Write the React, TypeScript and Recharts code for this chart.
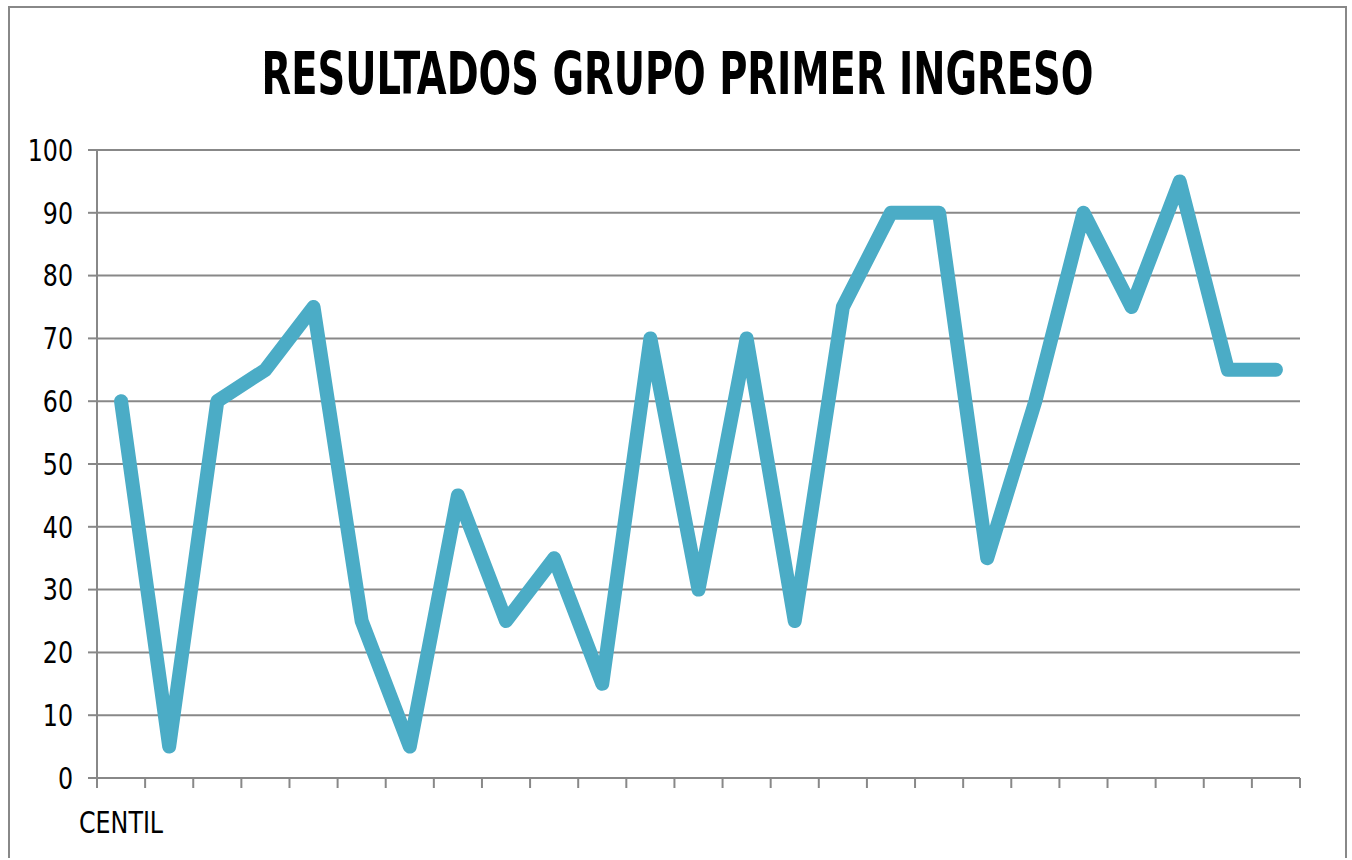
import { LineChart, Line, XAxis, YAxis, CartesianGrid } from "recharts";

const categories = [
  "CENTIL", "", "", "", "", "", "", "", "", "", "", "", "",
  "", "", "", "", "", "", "", "", "", "", "", "",
];
const values = [
  60, 5, 60, 65, 75, 25, 5, 45, 25, 35, 15, 70, 30, 70, 25, 75, 90, 90, 35, 60,
  90, 75, 95, 65, 65,
];
const yTicks = [0, 10, 20, 30, 40, 50, 60, 70, 80, 90, 100];

const data = values.map((v, i) => ({ pos: i + 0.5, label: categories[i], value: v }));
const xTicks = categories.map((_, i) => i).concat(categories.length);

const FONT = '"DejaVu Sans Condensed", "DejaVu Sans", sans-serif';
const GRID = "#888888";

const W = 1335;
const H = 850;
const margin = { top: 142, right: 45, left: 0, bottom: 40 };
const yAxisWidth = 87;
const band = (W - margin.left - margin.right - yAxisWidth) / categories.length;

// condensed look, the source font is narrower than DejaVu
function CatTick(props: any) {
  const { x, y, payload } = props;
  const label = categories[payload.value];
  if (!label) return null;
  return (
    <g transform={`translate(${x + band / 2},${y + 45})`}>
      <text transform="scale(0.88,1)" textAnchor="middle" fontFamily={FONT} fontSize={30} fill="#000">
        {label}
      </text>
    </g>
  );
}

function ValTick(props: any) {
  const { x, y, payload } = props;
  return (
    <g transform={`translate(${x - 5},${y})`}>
      <text
        transform="scale(0.88,1)"
        textAnchor="end"
        dy="0.36em"
        fontFamily={FONT}
        fontSize={30}
        fill="#000"
      >
        {payload.value}
      </text>
    </g>
  );
}

export default function App() {
  return (
    <div
      style={{
        position: "absolute",
        left: 8,
        top: 6,
        width: W,
        height: H,
        border: `2px solid ${GRID}`,
        borderBottom: "none",
        background: "#fff",
        overflow: "hidden",
      }}
    >
      <div
        style={{
          position: "absolute",
          left: 0,
          right: 0,
          top: 36,
          textAlign: "center",
          fontFamily: FONT,
          fontWeight: "bold",
          fontSize: 59,
          lineHeight: "59px",
          color: "#000",
          transform: "scaleX(0.725)",
          transformOrigin: "50% 50%",
          whiteSpace: "nowrap",
        }}
      >
        RESULTADOS GRUPO PRIMER INGRESO
      </div>
      <LineChart width={W} height={H} data={data} margin={margin}>
        <CartesianGrid vertical={false} stroke={GRID} strokeWidth={2} />
        <XAxis
          type="number"
          dataKey="pos"
          domain={[0, categories.length]}
          ticks={xTicks}
          interval={0}
          height={40}
          tickSize={10}
          tickMargin={0}
          axisLine={{ stroke: GRID, strokeWidth: 2 }}
          tickLine={{ stroke: GRID, strokeWidth: 2 }}
          tick={<CatTick />}
        />
        <YAxis
          domain={[0, 100]}
          ticks={yTicks}
          interval={0}
          width={yAxisWidth}
          tickSize={9}
          tickMargin={10}
          axisLine={{ stroke: GRID, strokeWidth: 2 }}
          tickLine={{ stroke: GRID, strokeWidth: 2 }}
          tick={<ValTick />}
        />
        <Line
          type="linear"
          dataKey="value"
          stroke="#4BACC6"
          strokeWidth={14}
          strokeLinecap="round"
          strokeLinejoin="round"
          dot={false}
          activeDot={false}
          isAnimationActive={false}
        />
      </LineChart>
    </div>
  );
}
